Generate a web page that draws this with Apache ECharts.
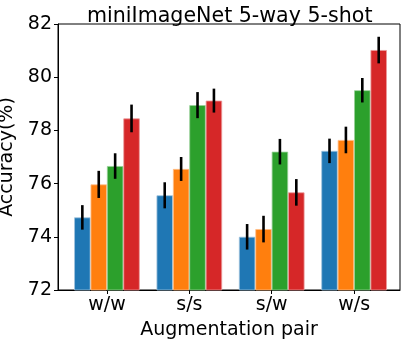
<!DOCTYPE html>
<html>
<head>
<meta charset="utf-8">
<script src="https://cdn.jsdelivr.net/npm/echarts@6/dist/echarts.min.js"></script>
<style>
  html, body { margin: 0; padding: 0; background: #fff; }
  #chart { width: 407px; height: 343px; }
</style>
</head>
<body>
<div id="chart"></div>
<script>
// augmentation pairs on the x axis
var categories = ['w/w', 's/s', 's/w', 'w/s'];
// four methods, mean accuracy per pair
var blueVals = [74.73, 75.56, 74.0, 77.23];
var orangeVals = [75.97, 76.55, 74.29, 77.64];
var greenVals = [76.66, 78.95, 77.2, 79.51];
var redVals = [78.45, 79.12, 75.67, 81.02];
// error bar half-lengths
var blueErr = [0.46, 0.49, 0.48, 0.46];
var orangeErr = [0.51, 0.45, 0.5, 0.5];
var greenErr = [0.48, 0.49, 0.48, 0.46];
var redErr = [0.52, 0.45, 0.5, 0.5];
var yTicks = [72, 74, 76, 78, 80, 82];

var colors = ['#1f77b4', '#ff7f0e', '#2ca02c', '#d62728'];
var edges = ['#9fc3dd', '#ffbf8a', '#98d098', '#eb9b9b'];
var allVals = [blueVals, orangeVals, greenVals, redVals];
var allErr = [blueErr, orangeErr, greenErr, redErr];
var barW = 16.4;
var font = 'DejaVu Sans';

var chart = echarts.init(document.getElementById('chart'));

var series = [];
allVals.forEach(function(vals, i) {
  series.push({
    type: 'bar',
    data: vals.map(function(v, k) { return [k, v]; }),
    barWidth: barW,
    barGap: '0%',
    itemStyle: {
      color: colors[i],
      borderColor: edges[i],
      borderWidth: 0.8
    },
    z: 2
  });
});

// error bars: [category index, series index, mean, err]
var errData = [];
allVals.forEach(function(vals, i) {
  vals.forEach(function(v, k) {
    errData.push([k, i, v, allErr[i][k]]);
  });
});

series.push({
  type: 'custom',
  data: errData,
  z: 5,
  renderItem: function(params, api) {
    var k = api.value(0);
    var i = api.value(1);
    var m = api.value(2);
    var e = api.value(3);
    var lo = api.coord([k, m - e]);
    var hi = api.coord([k, m + e]);
    var dx = (i - 1.5) * barW;
    return {
      type: 'line',
      shape: { x1: lo[0] + dx, y1: lo[1], x2: hi[0] + dx, y2: hi[1] },
      style: { stroke: '#000', lineWidth: 2.6 }
    };
  }
});

chart.setOption({
  animation: false,
  title: {
    text: 'miniImageNet 5-way 5-shot',
    left: 82,
    top: 1,
    textStyle: { fontFamily: font, fontSize: 20.6, fontWeight: 'normal', color: '#000' }
  },
  grid: {
    left: 58,
    right: 7,
    top: 24,
    bottom: 53,
    outerBoundsMode: 'none',
    containLabel: false,
    show: true,
    borderColor: '#000',
    borderWidth: 1
  },
  xAxis: {
    type: 'value',
    min: -0.594,
    max: 3.557,
    name: 'Augmentation pair',
    nameLocation: 'middle',
    nameGap: 31,
    nameTextStyle: { fontFamily: font, fontSize: 19, color: '#000' },
    axisLine: { show: true, onZero: false, lineStyle: { color: '#000', width: 1 } },
    axisTick: { show: true, customValues: [0, 1, 2, 3], length: 4, lineStyle: { color: '#000' } },
    axisLabel: {
      customValues: [0, 1, 2, 3],
      formatter: function(v) { return categories[Math.round(v)]; },
      fontFamily: font, fontSize: 19, color: '#000', margin: 6
    },
    splitLine: { show: false }
  },
  yAxis: {
    type: 'value',
    min: yTicks[0],
    max: yTicks[yTicks.length - 1],
    interval: 2,
    name: 'Accuracy(%)',
    nameLocation: 'middle',
    nameGap: 41,
    nameTextStyle: { fontFamily: font, fontSize: 19, color: '#000' },
    axisLine: { show: true, onZero: false, lineStyle: { color: '#000', width: 1 } },
    axisTick: { show: true, length: 4, lineStyle: { color: '#000' } },
    axisLabel: { fontFamily: font, fontSize: 19, color: '#000', margin: 6 },
    splitLine: { show: false }
  },
  series: series
});
</script>
</body>
</html>
